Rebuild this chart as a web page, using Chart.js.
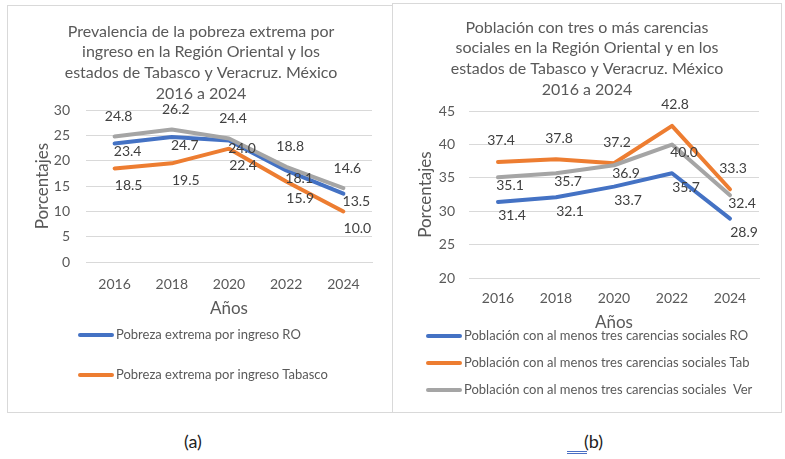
<!DOCTYPE html>
<html>
<head>
<meta charset="utf-8">
<script src="https://cdn.jsdelivr.net/npm/chart.js@4.4.1/dist/chart.umd.min.js"></script>
<style>
    body { margin: 0; background: #fff; width: 785px; height: 459px; position: relative; overflow: hidden; font-family: Lato, sans-serif; }
    .panel { position: absolute; box-sizing: border-box; border: 1px solid #d9d9d9; }
    #panelA { left: 7px; top: 5px; width: 386px; height: 408px; }
    #panelB { left: 392px; top: 3px; width: 390px; height: 410px; }
    .cap { position: absolute; top: 430px; font-size: 18px; color: #222; }
    #mark { position: absolute; left: 567px; top: 451px; width: 20px; height: 1px; border-top: 1px solid #4a6fc4; border-bottom: 1px solid #4a6fc4; }
</style>
</head>
<body>
<div class="panel" id="panelA"><canvas id="chartA"></canvas></div>
<div class="panel" id="panelB"><canvas id="chartB"></canvas></div>
<div class="cap" style="left:184px">(a)</div>
<div class="cap" style="left:584px">(b)</div>
<div id="mark"></div>
<script>
const years = ['2016', '2018', '2020', '2022', '2024'];

// (a) pobreza extrema por ingreso
const pobrezaRO = [23.4, 24.7, 24.0, 18.1, 13.5];
const pobrezaTab = [18.5, 19.5, 22.4, 15.9, 10.0];
const pobrezaVer = [24.8, 26.2, 24.4, 18.8, 14.6];

// (b) tres o más carencias sociales
const carenciasRO = [31.4, 32.1, 33.7, 35.7, 28.9];
const carenciasTab = [37.4, 37.8, 37.2, 42.8, 33.3];
const carenciasVer = [35.1, 35.7, 36.9, 40.0, 32.4];

const yRangeA = [0, 30];
const yRangeB = [20, 45];

const BLUE = '#4472c4', ORANGE = '#ed7d31', GRAY = '#a5a5a5';
const TXT = '#595959';

// value labels next to each point, offset per series
const valueLabels = {
    id: 'valueLabels',
    afterDatasetsDraw(chart) {
        const ctx = chart.ctx;
        ctx.save();
        ctx.font = '14px Lato';
        ctx.fillStyle = '#404040';
        ctx.textAlign = 'center';
        ctx.textBaseline = 'middle';
        chart.data.datasets.forEach((ds, i) => {
            chart.getDatasetMeta(i).data.forEach((pt, j) => {
                ctx.fillText(ds.data[j].toFixed(1), pt.x + ds.labelDx, pt.y + ds.labelDy);
            });
        });
        ctx.restore();
    }
};

// Excel-like legend: one entry per row, left aligned
const rowLegend = {
    id: 'rowLegend',
    afterDraw(chart, args, opts) {
        const ctx = chart.ctx;
        ctx.save();
        ctx.font = '13px Lato';
        ctx.fillStyle = TXT;
        ctx.textBaseline = 'middle';
        ctx.lineCap = 'round';
        let y = opts.y;
        chart.data.datasets.forEach(ds => {
            if (ds.inLegend === false) return;
            ctx.strokeStyle = ds.borderColor;
            ctx.lineWidth = 4;
            ctx.beginPath();
            ctx.moveTo(opts.x + 2, y);
            ctx.lineTo(opts.x + 34, y);
            ctx.stroke();
            ctx.fillText(ds.label, opts.x + 38, y);
            y += opts.gap;
        });
        ctx.restore();
    }
};

function series(label, data, color, order, dx, dy, inLegend) {
    return {
        label, data, borderColor: color, backgroundColor: color, order,
        borderWidth: 4, pointRadius: 0, tension: 0,
        borderCapStyle: 'round', borderJoinStyle: 'round',
        labelDx: dx, labelDy: dy, inLegend
    };
}

// g: fixed axis geometry so the plot area lands where the original has it
function makeOptions(title, yRange, g, legend) {
    return {
        responsive: true, maintainAspectRatio: false, animation: false,
        layout: { padding: g.pad },
        plugins: {
            legend: { display: false },
            tooltip: { enabled: false },
            title: { display: true, text: title, color: TXT, font: { family: 'Lato', size: 16, weight: 'normal', lineHeight: 1.3 }, padding: { top: 0, bottom: g.titleGap } },
            rowLegend: legend
        },
        scales: {
            x: {
                offset: true,
                grid: { display: false, drawTicks: false },
                border: { color: '#d9d9d9' },
                ticks: { color: TXT, font: { family: 'Lato', size: 14 }, padding: g.xTickPad, maxRotation: 0 },
                title: { display: true, text: 'Años', color: TXT, font: { family: 'Lato', size: 17 }, padding: { top: 0, bottom: 0 } },
                afterFit: s => { s.height = g.xHeight; }
            },
            y: {
                min: yRange[0], max: yRange[1],
                grid: { color: '#d9d9d9', drawTicks: false },
                border: { display: false },
                ticks: { stepSize: 5, color: TXT, font: { family: 'Lato', size: 14 }, padding: g.yTickPad },
                title: { display: true, text: 'Porcentajes', color: TXT, font: { family: 'Lato', size: 17 }, padding: { top: g.yTitlePad, bottom: 0 } },
                afterFit: s => { s.width = g.yWidth; }
            }
        }
    };
}

new Chart(document.getElementById('chartA'), {
    type: 'line',
    data: {
        labels: years,
        datasets: [
            series('Pobreza extrema por ingreso RO', pobrezaRO, BLUE, 3, 13, 8, true),
            series('Pobreza extrema por ingreso Tabasco', pobrezaTab, ORANGE, 2, 14, 17, true),
            series('Pobreza extrema por ingreso Veracruz', pobrezaVer, GRAY, 1, 4, -20, false)
        ]
    },
    options: makeOptions(
        ['Prevalencia de la pobreza extrema por', 'ingreso en la Región Oriental y los', 'estados de Tabasco y Veracruz. México', '2016 a 2024'],
        yRangeA,
        { pad: { top: 15, left: 22, right: 20, bottom: 93 }, titleGap: 6, xHeight: 57, xTickPad: 14, yWidth: 56, yTickPad: 16, yTitlePad: 2 },
        { x: 70, y: 329, gap: 40 }),
    plugins: [valueLabels, rowLegend]
});

new Chart(document.getElementById('chartB'), {
    type: 'line',
    data: {
        labels: years,
        datasets: [
            series('Población con al menos tres carencias sociales RO', carenciasRO, BLUE, 3, 14, 14, true),
            series('Población con al menos tres carencias sociales Tab', carenciasTab, ORANGE, 2, 3, -21, true),
            series('Población con al menos tres carencias sociales  Ver', carenciasVer, GRAY, 1, 12, 8, true)
        ]
    },
    options: makeOptions(
        ['Población con tres o más carencias', 'sociales en la Región Oriental y en los', 'estados de Tabasco y Veracruz. México', '2016 a 2024'],
        yRangeB,
        { pad: { top: 13, left: 22, right: 22, bottom: 79 }, titleGap: 11, xHeight: 55, xTickPad: 12, yWidth: 54, yTickPad: 14, yTitlePad: 0 },
        { x: 33, y: 332, gap: 27 }),
    plugins: [valueLabels, rowLegend]
});
</script>
</body>
</html>
